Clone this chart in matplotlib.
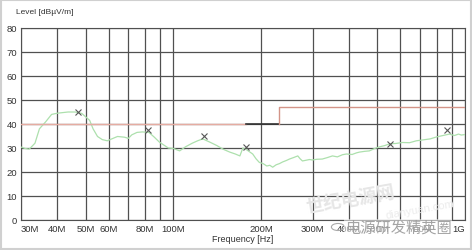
"""EMI scan plot: radiated level vs frequency with limit line."""

import matplotlib
matplotlib.use("agg")

import matplotlib.pyplot as plt
from matplotlib.patches import Rectangle

# ── data ────────────────────────────────────────────────────────────────
freq_mhz = [30, 31, 32, 33.5, 34.7, 36.5, 38.2, 40, 43.5, 46, 48.5, 51.6, 53, 54.9,
            57, 59.3, 62, 64.3, 68, 70, 72, 75, 78.3, 82.4, 86, 89.4, 92, 96, 100,
            105, 110, 116, 121, 126, 133, 141, 148, 156, 163, 169, 173, 177, 182,
            187, 192, 197, 203, 209, 214, 219, 225, 231, 237, 244, 250, 258, 267,
            272, 277, 285, 293, 300, 310, 324, 337, 351, 365, 380, 392, 410, 425,
            435, 452, 470, 490, 510, 530, 551, 580, 610, 645, 681, 720, 760, 798,
            840, 884, 920, 950, 971, 1000]
level = [30.4, 29.8, 29.5, 32, 38, 41, 44, 44.5, 45, 45, 44.4, 41.5, 38, 34.8,
         33.5, 33, 34, 34.8, 34.5, 34, 35.5, 36.5, 36.7, 36.5, 34.5, 32.5, 31.5, 30, 29.8,
         28.8, 30.5, 32, 33, 33.8, 32.5, 31, 29.5, 28.3, 27.5, 26.7, 30, 29.5, 28.5,
         27.5, 25.5, 24, 23.5, 22.5, 22.8, 22, 23, 23.5, 24.2, 24.8, 25.4, 26, 26.7,
         25.5, 24.6, 24.9, 25.2, 25, 25.3, 25.4, 26, 26.7, 26.3, 27.2, 27.5, 27.3, 28,
         28.3, 28.6, 28.8, 29.8, 30.5, 31, 31.7, 31.9, 32.3, 32.2, 33, 33.4, 33.8, 34.6,
         35.2, 35.8, 35.2, 35.8, 35.4, 35.6]

mark_freq = [47, 82, 127, 177, 551, 870]
mark_level = [45.2, 37.3, 35, 30.4, 31.8, 37.3]

limit_freq = [30, 178, 230, 230, 1000]
limit_level = [40, 40, 40, 47, 47]

grid_freqs = [30, 40, 50, 60, 70, 80, 90, 100, 200, 300, 400, 500, 600, 700, 800, 900, 1000]
labeled = {30: "30M", 40: "40M", 50: "50M", 60: "60M", 80: "80M", 100: "100M",
           200: "200M", 300: "300M", 400: "400M", 500: "500M", 700: "700M", 1000: "1G"}
y_ticks = [0, 10, 20, 30, 40, 50, 60, 70, 80]

plt.rcParams["font.family"] = ["Liberation Sans", "Noto Sans CJK SC", "DejaVu Sans"]

fig = plt.figure(figsize=(4.72, 2.51), dpi=100)
fig.patches.append(Rectangle((0.002, 0.004), 0.996, 0.992, transform=fig.transFigure,
                             fill=False, edgecolor="#d0d0d0", lw=1.5))
ax = fig.add_axes([21 / 472, 1 - 221 / 251, 444 / 472, 192 / 251])

ax.set_xscale("log")
ax.set_xlim(30, 1000)
ax.set_ylim(0, 80)

# trace, limit line, peak markers
ax.plot(freq_mhz, level, color="#ade0ad", lw=0.9, zorder=3)
ax.plot(limit_freq[:2], limit_level[:2], color="#e6aca2", lw=1.0, zorder=3)
ax.plot(limit_freq[1:3], limit_level[1:3], color="#333333", lw=1.2, zorder=3)
ax.plot(limit_freq[2:], limit_level[2:], color="#d39488", lw=1.0, zorder=3)
ax.plot(mark_freq, mark_level, ls="none", marker="x", ms=4, mew=0.8, color="#555555", zorder=4)

# grid + ticks
ax.set_xticks(grid_freqs)
ax.set_xticklabels([labeled.get(f, "") for f in grid_freqs])
ax.minorticks_off()
ax.set_yticks(y_ticks)
ax.grid(True, color="#505050", lw=0.9)
ax.tick_params(length=0, labelsize=6.8, colors="#333333", pad=3)
labels = ax.get_xticklabels()
labels[0].set_ha("left")
labels[-1].set_ha("right")
for sp in ax.spines.values():
    sp.set_color("#505050")

fig.text(16 / 472, 1 - 12 / 251, "Level [dBµV/m]", fontsize=6, color="#333333", va="center")
fig.text(243 / 472, 1 - 240 / 251, "Frequency [Hz]", fontsize=6.5, color="#333333",
         ha="center", va="center")

# watermarks
fig.text(350 / 472, 1 - 200 / 251, "世纪电源网", fontsize=13, color="#e6e6e6", rotation=10,
         ha="center", va="center", style="italic", fontweight="bold", zorder=0)
fig.text(420 / 472, 1 - 210 / 251, "dianyuan.com", fontsize=8, color="#ececec", rotation=10,
         ha="center", va="center", zorder=0)
fig.text(398 / 472, 1 - 228 / 251, "电源研发精英圈", fontsize=11, color="#9a9a9a",
         ha="center", va="center", alpha=0.9,
         bbox=dict(boxstyle="square,pad=0.05", fc="white", ec="none", alpha=0.55))
fig.patches.append(plt.Circle((338 / 472, 1 - 228 / 251), 0.014, transform=fig.transFigure,
                              fill=False, edgecolor="#aaaaaa", lw=0.8))

fig.savefig("out.png", dpi=100)
plt.close(fig)
